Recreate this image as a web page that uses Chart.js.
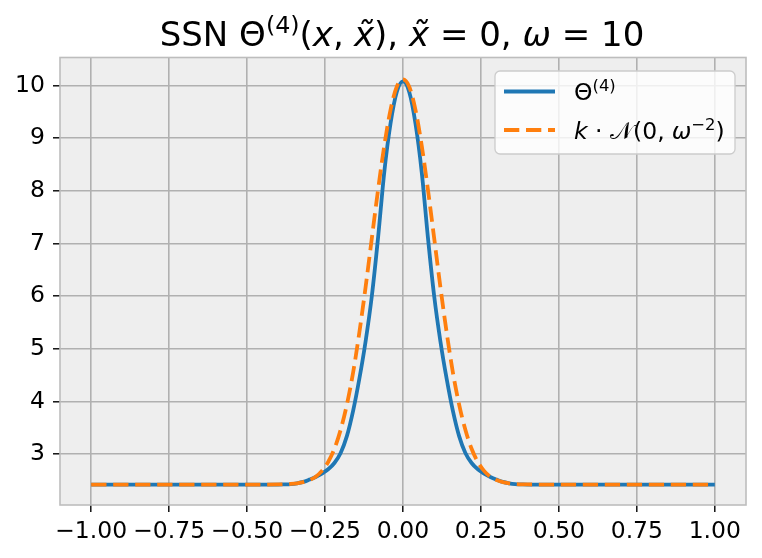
<!DOCTYPE html>
<html><head><meta charset="utf-8">
<script src="https://cdn.jsdelivr.net/npm/chart.js@4/dist/chart.umd.min.js"></script>
<style>html,body{margin:0;padding:0;background:#fff;overflow:hidden}</style>
</head><body>
<canvas id="c" width="762" height="558" style="display:block;width:762px;height:558px"></canvas>
<script>
// ---- data ----
const xValues = [-1, -0.8, -0.6, -0.5,
  -0.40, -0.38, -0.36, -0.34, -0.32, -0.30, -0.28, -0.26, -0.24, -0.22, -0.20,
  -0.18, -0.16, -0.14, -0.12, -0.10, -0.08, -0.06, -0.04, -0.02, 0,
  0.02, 0.04, 0.06, 0.08, 0.10, 0.12, 0.14, 0.16, 0.18, 0.20,
  0.22, 0.24, 0.26, 0.28, 0.30, 0.32, 0.34, 0.36, 0.38, 0.40,
  0.5, 0.6, 0.8, 1];
const theta4Values = [2.42, 2.42, 2.42, 2.42,
  2.42, 2.424, 2.43, 2.445, 2.47, 2.515, 2.565, 2.63, 2.71, 2.83, 3.02,
  3.34, 3.82, 4.43, 5.14, 6.00, 7.11, 8.36, 9.28, 9.88, 10.08,
  9.88, 9.28, 8.36, 7.11, 6.00, 5.14, 4.43, 3.82, 3.34, 3.02,
  2.83, 2.71, 2.63, 2.565, 2.515, 2.47, 2.445, 2.43, 2.424, 2.42,
  2.42, 2.42, 2.42, 2.42];
const gaussValues = [2.42, 2.42, 2.42, 2.42,
  2.422, 2.425, 2.432, 2.444, 2.466, 2.505, 2.57, 2.68, 2.85, 3.10, 3.46,
  3.94, 4.55, 5.31, 6.17, 7.10, 8.02, 8.86, 9.54, 9.98, 10.12,
  9.98, 9.54, 8.86, 8.02, 7.10, 6.17, 5.31, 4.55, 3.94, 3.46,
  3.10, 2.85, 2.68, 2.57, 2.505, 2.466, 2.444, 2.432, 2.425, 2.422,
  2.42, 2.42, 2.42, 2.42];
const xTickValues = [-1, -0.75, -0.5, -0.25, 0, 0.25, 0.5, 0.75, 1];
const yTickValues = [3, 4, 5, 6, 7, 8, 9, 10];
const xLimits = [-1.1, 1.1];
const yLimits = [2.032, 10.534];

// ---- styling ----
const FONT = '"DejaVu Sans"';
const TICK_SIZE = 23.5;
const BLUE = '#1f77b4', ORANGE = '#ff7f0e';

function drawRich(ctx, segs, size, x, y, align) {
  let total = 0; const items = [];
  for (const s of segs) {
    if (s.gap !== undefined) { items.push({gap: s.gap * size}); total += s.gap * size; continue; }
    const sz = s.sup ? size * 0.7 : size;
    const font = (s.it ? 'italic ' : '') + sz + 'px ' + (s.fam || FONT);
    ctx.font = font;
    const w = ctx.measureText(s.t).width;
    items.push({t: s.t, font, w, dy: s.sup ? -0.37 * size : 0});
    total += w;
  }
  let cx = align === 'center' ? x - total / 2 : x;
  ctx.textAlign = 'left'; ctx.textBaseline = 'alphabetic'; ctx.fillStyle = '#000';
  for (const it of items) {
    if (it.gap !== undefined) { cx += it.gap; continue; }
    ctx.font = it.font; ctx.fillText(it.t, cx, y + it.dy); cx += it.w;
  }
  return total;
}

const titleSegs = [
  {t: 'SSN Θ'}, {t: '(4)', sup: true}, {t: '('}, {t: 'x', it: true}, {t: ','}, {gap: 0.3},
  {t: 'x\u0303', it: true}, {t: ')'}, {t: ', '}, {t: 'x\u0303', it: true}, {t: ' = 0, '},
  {t: 'ω', it: true}, {t: ' = 10'}
];
const legendSegs = [
  [{t: 'Θ'}, {t: '(4)', sup: true}],
  [{t: 'k', it: true}, {t: ' · '}, {t: '\u{1D4A9}'}, {t: '(0,'}, {gap: 0.3}, {t: 'ω', it: true}, {t: '\u22122', sup: true}, {t: ')'}]
];

const decorPlugin = {
  id: 'decor',
  beforeDraw(chart) {
    const {ctx, chartArea: a} = chart;
    ctx.save(); ctx.fillStyle = '#eeeeee';
    ctx.fillRect(a.left, a.top, a.right - a.left, a.bottom - a.top);
    ctx.restore();
  },
  afterDatasetsDraw(chart) {
    const {ctx, chartArea: a} = chart;
    ctx.save(); ctx.strokeStyle = '#bdbdbd'; ctx.lineWidth = 1.6;
    ctx.strokeRect(a.left, a.top, a.right - a.left, a.bottom - a.top);
    ctx.restore();
  },
  afterDraw(chart) {
    const {ctx, chartArea: a} = chart;
    ctx.save();
    // title
    drawRich(ctx, titleSegs, 34, (a.left + a.right) / 2 - 1, 45.7, 'center');
    // legend
    const bx = a.right - 251, by = a.top + 13.5, bw = 240, bh = 83;
    ctx.beginPath(); ctx.roundRect(bx, by, bw, bh, 5);
    ctx.fillStyle = 'rgba(255,255,255,0.8)'; ctx.fill();
    ctx.strokeStyle = '#cccccc'; ctx.lineWidth = 1.3; ctx.stroke();
    const ds = chart.data.datasets;
    const rows = [by + 20.5, by + 59];
    rows.forEach((ry, i) => {
      const d = ds[i];
      ctx.beginPath(); ctx.strokeStyle = d.borderColor; ctx.lineWidth = d.borderWidth;
      ctx.setLineDash(d.borderDash || []); ctx.lineCap = 'butt';
      ctx.moveTo(bx + 9, ry); ctx.lineTo(bx + 60, ry); ctx.stroke();
      ctx.setLineDash([]);
      drawRich(ctx, legendSegs[i], TICK_SIZE, bx + 79, ry + 8.5, 'left');
    });
    ctx.restore();
  }
};

function fmtX(v) { return (v < 0 ? '\u2212' : '') + Math.abs(v).toFixed(2); }

const gridOpts = {color: '#b0b0b0', lineWidth: 1.6, tickColor: '#000', tickLength: 7, tickWidth: 1.4, drawTicks: true};
const tickFont = {family: 'DejaVu Sans', size: TICK_SIZE};

new Chart(document.getElementById('c'), {
  type: 'line',
  data: {
    datasets: [
      {label: 'Θ(4)', data: xValues.map((x, i) => ({x, y: theta4Values[i]})),
       borderColor: BLUE, borderWidth: 3.8, pointRadius: 0, fill: false,
       cubicInterpolationMode: 'monotone', order: 1},
      {label: 'k·N(0, ω^-2)', data: xValues.map((x, i) => ({x, y: gaussValues[i]})),
       borderColor: ORANGE, borderWidth: 3.8, borderDash: [15.3, 6.7], pointRadius: 0, fill: false,
       cubicInterpolationMode: 'monotone', order: 0}
    ]
  },
  options: {
    responsive: false, animation: false, devicePixelRatio: 1,
    layout: {padding: {top: 57.5, right: 16, left: 0, bottom: 0}},
    plugins: {legend: {display: false}, title: {display: false}, tooltip: {enabled: false}},
    scales: {
      x: {type: 'linear', min: xLimits[0], max: xLimits[1],
          afterBuildTicks: s => { s.ticks = xTickValues.map(v => ({value: v})); },
          afterFit: s => { s.height = 53; },
          ticks: {callback: v => fmtX(v), font: tickFont, color: '#000', padding: 6, maxRotation: 0, autoSkip: false},
          grid: gridOpts, border: {display: false}},
      y: {type: 'linear', min: yLimits[0], max: yLimits[1],
          afterBuildTicks: s => { s.ticks = yTickValues.map(v => ({value: v})); },
          afterFit: s => { s.width = 60; },
          ticks: {callback: v => String(v), font: tickFont, color: '#000', padding: 8, autoSkip: false},
          grid: gridOpts, border: {display: false}}
    }
  },
  plugins: [decorPlugin]
});
</script>
</body></html>
